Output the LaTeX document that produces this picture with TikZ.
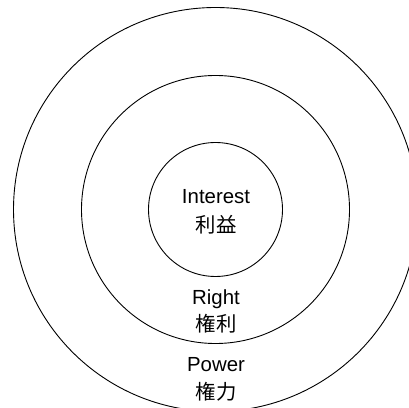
\documentclass[tikz,border=0pt]{standalone}
\usepackage{fontspec}
\setmainfont{Liberation Sans}
\newfontfamily\cjk{Noto Sans CJK JP}
\begin{document}
\begin{tikzpicture}[x=1pt,y=1pt,
  ring/.style={draw=black,line width=0.9pt},
  lbl/.style={anchor=base,inner sep=0pt,font=\fontsize{20.4}{24}\selectfont},
  cjklbl/.style={anchor=base,inner sep=0pt,font=\fontsize{20.4}{24}\selectfont\cjk}]
\useasboundingbox (0,0) rectangle (409,407);
\coordinate (c) at (215.5,197.5);
\draw[ring] (c) circle[radius=202];
\draw[ring] (c) circle[radius=134];
\draw[ring] (c) circle[radius=67];
\node[lbl] (interest) at (216,203) {Interest};
\node[cjklbl] (riyi) at (216,174) {利益};
\node[lbl] (right) at (216,103) {Right};
\node[cjklbl] (quanli) at (216,75.5) {権利};
\node[lbl] (power) at (216,36) {Power};
\node[cjklbl] (quanliki) at (216,8) {権力};
\end{tikzpicture}
\end{document}
